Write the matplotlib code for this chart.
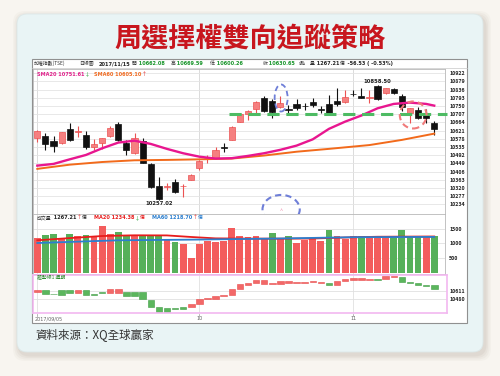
import numpy as np
import matplotlib.pyplot as plt
from matplotlib.patches import FancyBboxPatch, Rectangle, Ellipse

plt.rcParams['font.family'] = ['Noto Sans CJK TC', 'DejaVu Sans']

# ---- daily candles, 2017/09/05 .. 2017/11/15 ----
opens = [10584, 10594, 10567, 10555, 10631, 10614, 10597, 10534, 10558, 10593,
         10654, 10558, 10505, 10568, 10444, 10332, 10325, 10353, 10328, 10362,
         10423, 10475, 10476, 10534, 10572, 10668, 10707, 10733, 10791, 10777,
         10747, 10734, 10761, 10751, 10771, 10733, 10759, 10778, 10770, 10815,
         10800, 10794, 10855, 10817, 10838, 10803, 10715, 10729, 10715, 10662.08]
highs = [10622, 10607, 10594, 10614, 10663, 10645, 10621, 10575, 10583, 10645,
         10668, 10572, 10607, 10581, 10449, 10376, 10348, 10366, 10339, 10393,
         10465, 10493, 10533, 10558, 10645, 10712, 10730, 10775, 10803, 10786,
         10803, 10756, 10786, 10768, 10792, 10750, 10808, 10843, 10834, 10834,
         10843, 10834, 10858.5, 10845, 10843, 10813, 10740, 10747, 10733, 10669.59]
lows = [10563, 10519, 10510, 10553, 10567, 10589, 10526, 10519, 10523, 10589,
        10568, 10493, 10500, 10449, 10317, 10257.02, 10309, 10292, 10271, 10360,
        10414, 10449, 10474, 10510, 10570, 10668, 10677, 10715, 10720, 10686,
        10740, 10712, 10729, 10729, 10743, 10712, 10705, 10750, 10765, 10800,
        10790, 10765, 10780, 10815, 10813, 10726, 10660, 10680, 10660, 10600.26]
closes = [10619, 10549, 10540, 10612, 10572, 10617, 10534, 10553, 10581, 10633,
          10572, 10519, 10581, 10449, 10327, 10260, 10328, 10300, 10331, 10388,
          10463, 10478, 10519, 10532, 10642, 10707, 10726, 10773, 10726, 10720,
          10765, 10731, 10738, 10749, 10754, 10731, 10708, 10761, 10796, 10812,
          10793, 10797, 10785, 10843, 10820, 10747, 10738, 10686, 10687.18, 10630.65]

# moving averages (bar index, value)
sma20_i = [0, 2, 4, 6, 8, 10, 12, 14, 16, 18, 20, 22, 24, 26, 28, 30, 32, 34, 36, 38, 40, 42, 44, 46, 48, 49]
sma20_v = [10437, 10446, 10470, 10493, 10528, 10558, 10568, 10551, 10525, 10502, 10484, 10474, 10476,
           10488, 10502, 10520, 10542, 10575, 10630, 10668, 10700, 10738, 10761, 10768, 10761, 10752]
sma60_i = [0, 4, 8, 12, 16, 20, 24, 28, 32, 36, 41, 45, 49]
sma60_v = [10420, 10442, 10456, 10465, 10467, 10470, 10474, 10490, 10510, 10525, 10545, 10572, 10605]

# volume (億)
volume = [1196, 1285, 1308, 1196, 1308, 1251, 1285, 1217, 1578, 1331,
          1376, 1297, 1274, 1274, 1297, 1240, 1128, 1048, 970, 520,
          970, 1071, 1048, 1082, 1534, 1240, 1217, 1240, 1196, 1352,
          1196, 1240, 1014, 1128, 1139, 1082, 1443, 1240, 1162, 1263,
          1240, 1196, 1263, 1217, 1196, 1443, 1240, 1263, 1217, 1267]
vol_up = [1, 0, 0, 1, 0, 1, 0, 1, 1, 1, 0, 0, 1, 0, 0, 0, 1, 0, 1, 1,
          1, 1, 1, 1, 1, 1, 1, 1, 1, 0, 1, 0, 1, 1, 1, 1, 0, 1, 1, 1,
          0, 1, 1, 1, 0, 0, 0, 0, 1, 0]
vma20_i = [0, 4, 8, 12, 16, 19, 22, 26, 30, 34, 38, 42, 46, 49]
vma20_v = [1105, 1180, 1250, 1274, 1270, 1217, 1170, 1162, 1160, 1165, 1200, 1225, 1230, 1234]
vma60_i = [0, 10, 20, 29, 39, 49]
vma60_v = [1014, 1105, 1130, 1162, 1210, 1219]

# lower indicator boxes (open, close)
osc_open = [10590, 10622, 10560, 10622, 10622, 10579, 10622, 10557, 10590, 10579,
            10579, 10584, 10584, 10584, 10458, 10338, 10322, 10333, 10338, 10344,
            10393, 10469, 10480, 10524, 10540, 10644, 10710, 10732, 10726, 10715,
            10721, 10743, 10732, 10737, 10748, 10743, 10743, 10710, 10765, 10792,
            10792, 10792, 10803, 10797, 10830, 10836, 10759, 10743, 10704, 10699]
osc_close = [10622, 10557, 10555, 10546, 10579, 10622, 10546, 10540, 10568, 10644,
             10644, 10524, 10524, 10469, 10338, 10267, 10267, 10305, 10311, 10393,
             10480, 10491, 10524, 10546, 10644, 10721, 10743, 10781, 10781, 10732,
             10765, 10765, 10748, 10748, 10765, 10759, 10710, 10765, 10797, 10814,
             10814, 10803, 10792, 10852, 10858, 10759, 10732, 10699, 10688, 10644]

price_ticks = [10922 - 43 * k for k in range(17)]
month_pos = [0, 20, 39]
month_lab = ['2017/09/05', '10', '11']

opens, highs, lows, closes = map(np.array, (opens, highs, lows, closes))
osc_open, osc_close = np.array(osc_open), np.array(osc_close)
idx = np.arange(len(closes))

W, H = 500, 376
fig = plt.figure(figsize=(5, 3.76), dpi=100)
fig.patch.set_facecolor('#f8f5f0')


def box(x0, y0, x1, y1):
    return [x0 / W, 1 - y1 / H, (x1 - x0) / W, (y1 - y0) / H]


def tail(host, prev, s, color, size=3.6, **kw):
    # put a piece of text right after another one
    return host.annotate(s, xycoords=prev, xy=(1, 0.5), va='center', ha='left',
                         fontsize=size, color=color, **kw)


bg = fig.add_axes([0, 0, 1, 1])
bg.set_xlim(0, W)
bg.set_ylim(H, 0)
bg.axis('off')

# card with soft shadow
for k, a in enumerate([0.04, 0.05, 0.06, 0.08]):
    g = 6 - k * 1.5
    bg.add_patch(FancyBboxPatch((17 - g + 2, 14 - g + 3), 466 + 2 * g, 338 + 2 * g,
                                boxstyle='round,pad=0,rounding_size=12',
                                fc='#8a7a6a', ec='none', alpha=a))
bg.add_patch(FancyBboxPatch((17, 14), 466, 338, boxstyle='round,pad=0,rounding_size=10',
                            fc='#e9f4f5', ec='#dde8e8', lw=0.6))
bg.text(250, 38, '周選擇權雙向追蹤策略', ha='center', va='center', fontsize=19.5,
        color='#c8161e', fontweight='bold')
bg.add_patch(Rectangle((32, 59), 435, 264, fc='white', ec='#909090', lw=0.8))
bg.plot([32, 467], [68, 68], color='#c8c8c8', lw=0.5)
bg.text(35, 336, '資料來源：XQ全球贏家', ha='left', va='center', fontsize=8.3, color='#333333')

# header row
hs = 3.5
ns = 3.6
green = '#18952a'
num = dict(fontsize=ns, va='center', fontweight='bold', family='DejaVu Sans')
bg.text(33.5, 63.5, '加權指數(TSE)', fontsize=hs, va='center', color='#333')
bg.text(79, 63.5, '日線圖', fontsize=hs, va='center', color='#333')
bg.text(98.5, 63.5, '2017/11/15', color='#222', **num)
for xl, lab, val in [(132, '開', '10662.08'), (170.5, '高', '10669.59'),
                     (210, '低', '10600.26'), (262.5, '收', '10630.65')]:
    t = bg.text(xl, 63.5, lab, fontsize=hs, va='center', color='#333')
    tail(bg, t, ' ' + val, green, size=ns, fontweight='bold', family='DejaVu Sans')
bg.text(299, 63.5, 's點', fontsize=hs, va='center', color='#333')
t = bg.text(310, 63.5, '量', fontsize=hs, va='center', color='#333')
t = tail(bg, t, ' 1267.21', '#222', size=ns, fontweight='bold', family='DejaVu Sans')
t = tail(bg, t, '億', '#333', size=hs)
tail(bg, t, '  -56.53 ( -0.53%)', '#222', size=ns, fontweight='bold', family='DejaVu Sans')

# price panel
ax = fig.add_axes(box(32.7, 68.5, 445, 214))
ax.set_xlim(-0.57, 50.33)
ax.set_ylim(10183, 10947)
ax.set_yticks(price_ticks)
ax.yaxis.tick_right()
ax.tick_params(axis='y', length=0, labelsize=3.8, pad=3, labelcolor='#222')
ax.set_xticks(month_pos)
ax.tick_params(axis='x', length=0, labelbottom=False)
ax.grid(axis='y', color='#e4e4e4', lw=0.6)
ax.grid(axis='x', color='#d6d6d6', lw=0.6)
ax.set_axisbelow(True)
for s in ax.spines.values():
    s.set_color('#b8b8b8')
    s.set_linewidth(0.6)
for t in ax.get_yticklabels():
    t.set_fontweight('bold')

up = closes >= opens
edge = np.where(up, '#ec5252', '#111111')
fill = np.where(up, '#f58080', '#111111')
ax.vlines(idx, lows, highs, colors=edge, lw=0.8, zorder=2)
ax.bar(idx, np.maximum(np.abs(closes - opens), 2.5), bottom=np.minimum(opens, closes),
       width=0.76, color=fill, edgecolor=edge, lw=0.5, zorder=2)
ax.plot(sma60_i, sma60_v, color='#f26a1b', lw=1.4, zorder=3)
ax.plot(sma20_i, sma20_v, color='#e8168f', lw=1.7, zorder=3)
ax.plot([23.7, 50.6], [10707, 10707], color='#4dbb63', lw=2.2, dashes=(4, 2.2),
        zorder=4, clip_on=False)
ax.text(15, 10250, '10257.02', ha='center', va='top', fontsize=3.8, color='#222',
        fontweight='bold', family='DejaVu Sans')
ax.text(42, 10866, '10858.50', ha='center', va='bottom', fontsize=3.8, color='#222',
        fontweight='bold', family='DejaVu Sans')
t = ax.text(0.0, 10918, 'SMA20 10751.61', fontsize=3.6, color='#e0208a', va='center',
            fontweight='bold', family='DejaVu Sans')
tail(ax, t, '↓', '#1a9a2a')
t = ax.text(7.0, 10918, 'SMA60 10605.10', fontsize=3.6, color='#f06a20', va='center',
            fontweight='bold', family='DejaVu Sans')
tail(ax, t, '↑', '#e02020')

ax.add_patch(Ellipse((30.1, 10792), 1.6, 142, fill=False, ec='#6f7fd8', lw=1.3,
                     ls=(0, (3, 2)), zorder=5))
ax.add_patch(Ellipse((30.1, 10207), 4.6, 152, fill=False, ec='#6f7fd8', lw=1.5,
                     ls=(0, (3, 2)), zorder=5, clip_on=False))
ax.text(30.1, 10196, '^', ha='center', va='center', fontsize=4, color='#f090b0')
ax.add_patch(Ellipse((46.4, 10703), 3.3, 142, fill=False, ec='#f07b7b', lw=1.5,
                     ls=(0, (3, 2)), zorder=5))

# volume panel
axv = fig.add_axes(box(32.7, 214, 445, 274))
axv.set_xlim(-0.57, 50.33)
axv.set_ylim(-34, 1994)
vcol = np.where(np.array(vol_up) == 1, '#f35d5d', '#56b05a')
axv.bar(idx, volume, width=0.84, color=vcol, zorder=2)
axv.plot(vma20_i, vma20_v, color='#e81c1c', lw=1.3, zorder=3)
axv.plot(vma60_i, vma60_v, color='#2b7fcf', lw=1.3, zorder=3)
axv.set_yticks([500, 1000, 1500])
axv.yaxis.tick_right()
axv.tick_params(axis='y', length=0, labelsize=3.8, pad=3, labelcolor='#222')
axv.set_xticks(month_pos)
axv.tick_params(axis='x', length=0, labelbottom=False)
axv.grid(color='#e0e0e0', lw=0.6)
axv.set_axisbelow(True)
for s in axv.spines.values():
    s.set_color('#b8b8b8')
    s.set_linewidth(0.6)
for t in axv.get_yticklabels():
    t.set_fontweight('bold')
t = axv.text(0.0, 1870, '成交量', fontsize=3.5, color='#333', va='center')
t = tail(axv, t, ' 1267.21', '#222', size=3.6, fontweight='bold', family='DejaVu Sans')
t = tail(axv, t, '↑', '#e02020')
tail(axv, t, '億', '#333', size=3.5)
t = axv.text(7.0, 1870, 'MA20 1234.38', fontsize=3.6, color='#e81c1c', va='center',
             fontweight='bold', family='DejaVu Sans')
t = tail(axv, t, '↓', '#1a9a2a')
tail(axv, t, '億', '#e81c1c', size=3.5)
t = axv.text(14.2, 1870, 'MA60 1218.70', fontsize=3.6, color='#2b7fcf', va='center',
             fontweight='bold', family='DejaVu Sans')
t = tail(axv, t, '↑', '#e02020')
tail(axv, t, '億', '#2b7fcf', size=3.5)

# indicator panel
axo = fig.add_axes(box(32.7, 275, 447.3, 313.3))
axo.set_xlim(-0.57, 50.6)
axo.set_ylim(10240, 10868)
ocol = np.where(osc_close >= osc_open, '#f26868', '#5bb65d')
oedge = np.where(osc_close >= osc_open, '#e84a4a', '#3f9c44')
axo.bar(idx, np.maximum(np.abs(osc_close - osc_open), 5), bottom=np.minimum(osc_open, osc_close),
        width=0.8, color=ocol, edgecolor=oedge, lw=0.4, zorder=2)
axo.set_yticks([10480, 10611])
axo.yaxis.tick_right()
axo.tick_params(axis='y', length=0, labelsize=3.8, pad=2, labelcolor='#222')
axo.set_xticks(month_pos)
axo.tick_params(axis='x', length=0, labelbottom=False)
axo.grid(color='#e0e0e0', lw=0.6)
axo.set_axisbelow(True)
for s in axo.spines.values():
    s.set_color('#f2b8f0')
    s.set_linewidth(1.2)
for t in axo.get_yticklabels():
    t.set_fontweight('bold')
axo.text(0.0, 10830, '趨勢線1 週期', fontsize=3.5, color='#2a8a2a', va='center')

# date strip
for p, lab in zip(month_pos, month_lab):
    xp = 37.3 + 8.1 * p
    bg.plot([xp, xp], [313.5, 316], color='#999', lw=0.5)
    bg.text(xp - 3 if p == 0 else xp, 319, lab, fontsize=3.5, color='#666',
            ha='left' if p == 0 else 'center', va='center', family='DejaVu Sans')

fig.savefig('out.png', dpi=100, facecolor=fig.get_facecolor())
